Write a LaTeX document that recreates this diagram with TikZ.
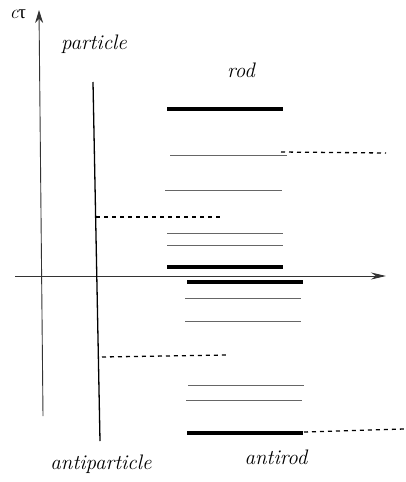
\documentclass[tikz,border=0pt]{standalone}
\usepackage{fontspec}
\newfontfamily\grkfont{Liberation Serif}
\usetikzlibrary{arrows.meta}
\begin{document}
\begin{tikzpicture}[x=1pt,y=-1pt,
  axis/.style={line width=0.9pt,draw=black!80},
  world/.style={line width=1.3pt,draw=black},
  thin/.style={line width=0.8pt,draw=black!60},
  thick/.style={line width=3.2pt,draw=black},
  dashline/.style={line width=1.3pt,draw=black,dash pattern=on 4pt off 4pt},
  lbl/.style={font=\fontsize{21}{24}\selectfont\itshape,inner sep=0pt}]
\useasboundingbox (0,0) rectangle (406,482);
% axes
\coordinate (vb) at (43,416);
\coordinate (vt) at (39,10);
\draw[axis,-{Stealth[length=13pt,width=8pt]}] (vb) -- (vt);
\coordinate (hl) at (15,276);
\coordinate (hr) at (386,276);
\draw[axis,-{Stealth[length=15pt,width=7pt]}] (hl) -- (hr);
% particle worldline
\coordinate (pt) at (93,82);
\coordinate (pb) at (100,441);
\draw[world] (pt) -- (pb);
% rod lines
\draw[thick] (167,109) -- (283,109);
\draw[thin] (170,155) -- (287,155);
\draw[thin] (165,190) -- (282,190);
\draw[thin] (167,233) -- (283,233);
\draw[thin] (167,245) -- (283,245);
\draw[thick] (167,267) -- (283,267);
% antirod lines
\draw[thick] (187,282) -- (303,282);
\draw[thin] (185,298) -- (301,298);
\draw[thin] (185,321) -- (301,321);
\draw[thin] (188,385) -- (304,385);
\draw[thin] (186,400) -- (302,400);
\draw[thick] (187,433) -- (303,433);
% dashed
\draw[dashline] (281,152) -- (386,153);
\draw[dashline] (96,217) -- (222,217);
\draw[dashline] (102,357) -- (227,355);
\draw[dashline] (304,432) -- (404,429);
% labels
\node[inner sep=0pt,font=\fontsize{19}{22}\selectfont] (ct) at (18,14) {\itshape c\upshape\grkfont τ};
\node[lbl] (particle) at (94,44) {particle};
\node[lbl] (rod) at (241,70) {rod};
\node[lbl] (antiparticle) at (101,464) {antiparticle};
\node[lbl] (antirod) at (276,457) {antirod};
\end{tikzpicture}
\end{document}
